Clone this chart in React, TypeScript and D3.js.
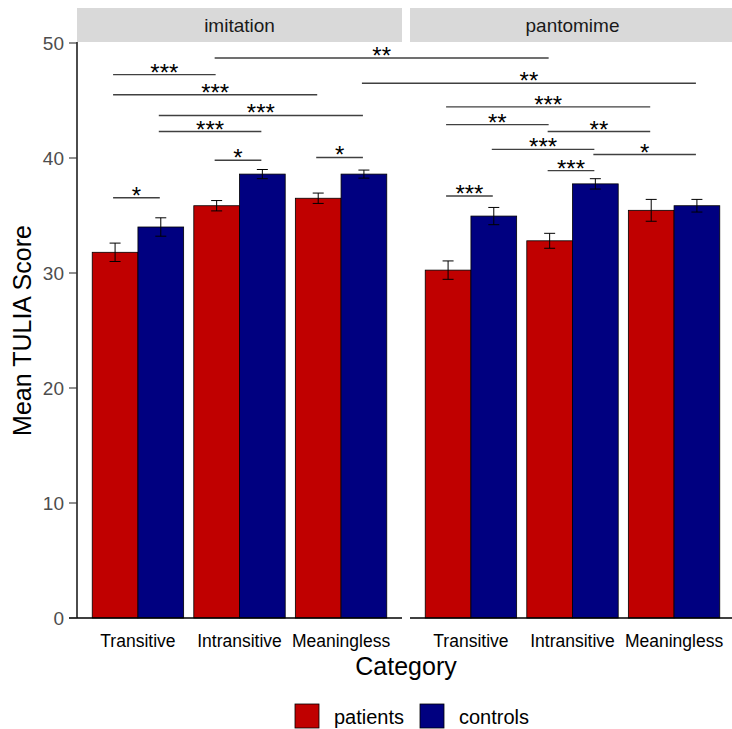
import React from "react";
import * as d3 from "d3";

// facet panels, categories and groups
const panels = ["imitation", "pantomime"];
const categories = ["Transitive", "Intransitive", "Meaningless"];
const groups = ["patients", "controls"];
const groupColors = ["#C00000", "#000080"];

// mean TULIA scores
const imitationPatients = [31.8, 35.85, 36.5];
const imitationControls = [34.0, 38.6, 38.6];
const pantomimePatients = [30.25, 32.8, 35.45];
const pantomimeControls = [34.95, 37.75, 35.85];

// standard errors
const imitationPatientsSE = [0.8, 0.45, 0.45];
const imitationControlsSE = [0.8, 0.4, 0.35];
const pantomimePatientsSE = [0.8, 0.65, 0.95];
const pantomimeControlsSE = [0.75, 0.45, 0.55];

const yTicks = [0, 10, 20, 30, 40, 50];

// significance brackets: [panel, category, group] -> [panel, category, group], height, label
const brackets = [
  { a: [0, 1, 0], b: [1, 1, 0], y: 48.7, label: "**" },
  { a: [0, 0, 0], b: [0, 1, 0], y: 47.25, label: "***" },
  { a: [0, 2, 1], b: [1, 2, 1], y: 46.5, label: "**" },
  { a: [0, 0, 0], b: [0, 2, 0], y: 45.5, label: "***" },
  { a: [0, 0, 1], b: [0, 2, 1], y: 43.7, label: "***" },
  { a: [0, 0, 1], b: [0, 1, 1], y: 42.3, label: "***" },
  { a: [0, 1, 0], b: [0, 1, 1], y: 39.8, label: "*" },
  { a: [0, 2, 0], b: [0, 2, 1], y: 40.05, label: "*" },
  { a: [0, 0, 0], b: [0, 0, 1], y: 36.55, label: "*" },
  { a: [1, 0, 0], b: [1, 2, 0], y: 44.45, label: "***" },
  { a: [1, 0, 0], b: [1, 1, 0], y: 42.9, label: "**" },
  { a: [1, 1, 0], b: [1, 2, 0], y: 42.3, label: "**" },
  { a: [1, 0, 1], b: [1, 1, 1], y: 40.75, label: "***" },
  { a: [1, 1, 1], b: [1, 2, 1], y: 40.3, label: "*" },
  { a: [1, 1, 0], b: [1, 1, 1], y: 38.9, label: "***" },
  { a: [1, 0, 0], b: [1, 0, 1], y: 36.7, label: "***" },
];

const means = [
  [imitationPatients, imitationControls],
  [pantomimePatients, pantomimeControls],
];
const errors = [
  [imitationPatientsSE, imitationControlsSE],
  [pantomimePatientsSE, pantomimeControlsSE],
];

const W = 732;
const H = 729;
const font = "'Liberation Sans', Arial, sans-serif";

export default function App() {
  const top = 43;
  const bottom = 618;
  const y = d3.scaleLinear().domain([0, 50]).range([bottom, top]);

  const px = d3.scaleBand<string>().domain(panels).range([77, 735]).paddingInner(8 / 333);
  const xFor = (p: number) =>
    d3.scaleBand<string>().domain(categories).range([px(panels[p])!, px(panels[p])! + px.bandwidth()]).paddingInner(0).paddingOuter(0.1);
  const xs = panels.map((_, p) => xFor(p));
  const bw = xs[0].bandwidth();
  const gx = d3.scaleBand<string>().domain(groups).range([0.05 * bw, 0.95 * bw]);
  const barCenter = (k: number[]) => xs[k[0]](categories[k[1]])! + gx(groups[k[2]])! + gx.bandwidth() / 2;
  const axisX = px(panels[0])!;

  return (
    <svg width={W} height={H} style={{ position: "absolute", left: 0, top: 0, background: "#fff" }} fontFamily={font}>
      {panels.map((panel, p) => {
        const x0 = px(panel)!;
        const x1 = x0 + px.bandwidth();
        const xc = xs[p];
        return (
          <g key={panel}>
            <rect x={x0} y={8} width={px.bandwidth()} height={34} fill="#d9d9d9" />
            <text x={(x0 + x1) / 2} y={32} textAnchor="middle" fontSize={19} fill="#1a1a1a">
              {panel}
            </text>
            {categories.map((cat, c) =>
              groups.map((g, gi) => {
                const v = means[p][gi][c];
                const se = errors[p][gi][c];
                const bx = xc(cat)! + gx(g)!;
                const cx = bx + gx.bandwidth() / 2;
                return (
                  <g key={cat + g}>
                    <rect x={bx} y={y(v)} width={gx.bandwidth()} height={y(0) - y(v)} fill={groupColors[gi]} stroke="#000" strokeWidth={0.8} />
                    <line x1={cx} x2={cx} y1={y(v - se)} y2={y(v + se)} stroke="#000" strokeWidth={1} />
                    <line x1={cx - 5.5} x2={cx + 5.5} y1={y(v - se)} y2={y(v - se)} stroke="#000" strokeWidth={1} />
                    <line x1={cx - 5.5} x2={cx + 5.5} y1={y(v + se)} y2={y(v + se)} stroke="#000" strokeWidth={1} />
                  </g>
                );
              })
            )}
            <line x1={p === 0 ? x0 - 8 : x0} x2={x1} y1={bottom} y2={bottom} stroke="#000" strokeWidth={1.4} />
            {categories.map((cat) => (
              <text key={cat} x={xc(cat)! + bw / 2} y={647} textAnchor="middle" fontSize={17.5} fill="#000">
                {cat}
              </text>
            ))}
          </g>
        );
      })}
      {/* y axis on the first panel */}
      <line x1={axisX} x2={axisX} y1={top - 1} y2={bottom} stroke="#000" strokeWidth={1.4} />
      {yTicks.map((t) => (
        <g key={t}>
          <line x1={axisX - 8} x2={axisX} y1={y(t)} y2={y(t)} stroke="#333" strokeWidth={1.1} />
          <text x={axisX - 13} y={y(t)} dy="0.35em" textAnchor="end" fontSize={19} fill="#4d4d4d">
            {t}
          </text>
        </g>
      ))}
      {/* significance brackets */}
      {brackets.map((b, i) => {
        const xa = barCenter(b.a) - 2;
        const xb = barCenter(b.b) - 1;
        return (
          <g key={i}>
            <line x1={xa} x2={xb} y1={y(b.y)} y2={y(b.y)} stroke="#404040" strokeWidth={1.4} />
            <text x={(xa + xb) / 2} y={y(b.y) + 6} textAnchor="middle" fontSize={24} fill="#000">
              {b.label}
            </text>
          </g>
        );
      })}
      <text x={406} y={675} textAnchor="middle" fontSize={25} fill="#000">
        Category
      </text>
      <text transform={`translate(31,${(top + bottom) / 2}) rotate(-90)`} textAnchor="middle" fontSize={25} fill="#000">
        Mean TULIA Score
      </text>
      {groups.map((g, i) => {
        const lx = [295, 420][i];
        return (
          <g key={g}>
            <rect x={lx} y={704} width={24} height={24} fill={groupColors[i]} stroke="#000" strokeWidth={0.8} />
            <text x={lx + 39} y={724} fontSize={20} fill="#000">
              {g}
            </text>
          </g>
        );
      })}
    </svg>
  );
}
